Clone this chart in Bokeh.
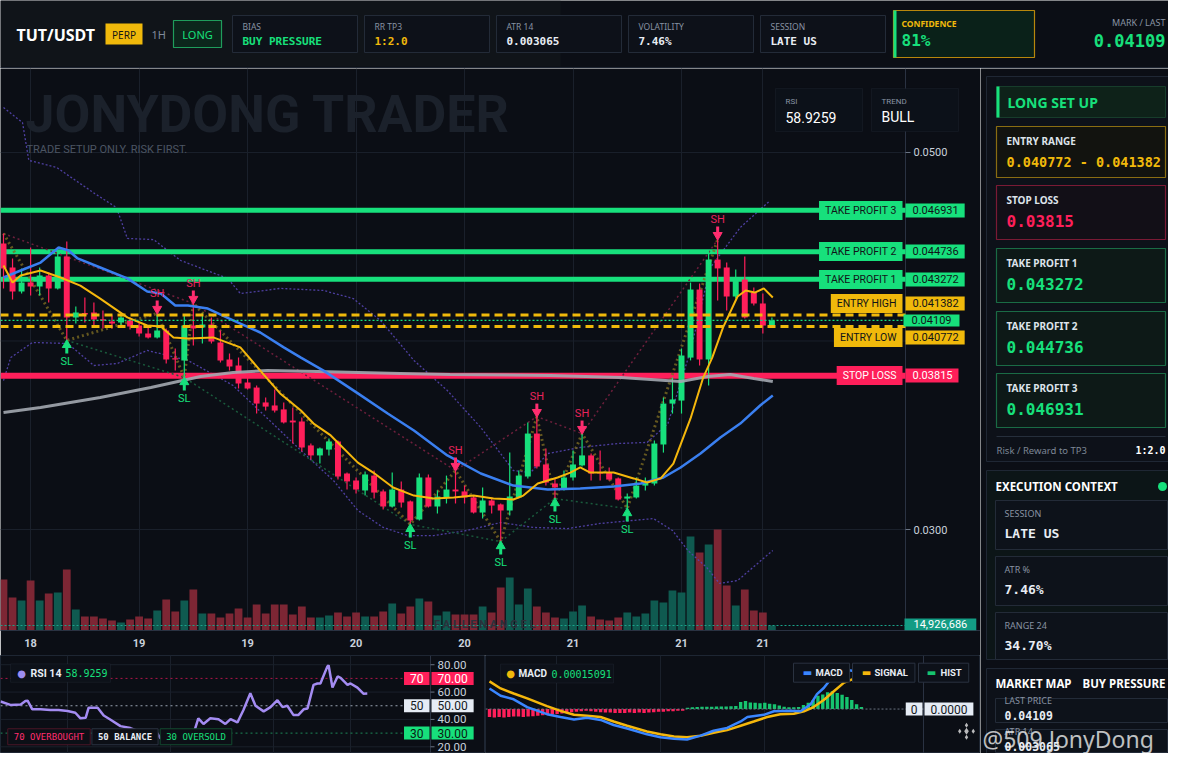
import numpy as np
from bokeh.plotting import figure
from bokeh.models import (Range1d, FixedTicker, Label, BoxAnnotation, ColumnDataSource)
from bokeh.layouts import row, column
from bokeh.core.properties import value
from bokeh.embed import file_html
from bokeh.resources import INLINE

# ---------------------------------------------------------------- data
symbol = "TUT/USDT"
timeframe = "1H"
side = "LONG"
card_labels = ["BIAS", "RR TP3", "ATR 14", "VOLATILITY", "SESSION"]
card_values = ["BUY PRESSURE", "1:2.0", "0.003065", "7.46%", "LATE US"]
confidence = "81%"

x_tick_bars = [3, 15, 27, 39, 51, 63, 75, 84]
x_tick_labels = ["18", "19", "19", "20", "20", "21", "21", "21"]
price_ticks = [0.03, 0.04, 0.05]
price_tick_labels = ["0.0300", "", "0.0500"]

candle_open = [0.04517, 0.04390, 0.04263, 0.04310, 0.04289, 0.04347, 0.04279, 0.04448, 0.04125, 0.04146,
               0.04151, 0.04114, 0.04104, 0.04098, 0.04109, 0.04082, 0.04040, 0.04019, 0.04056, 0.03907,
               0.03897, 0.04082, 0.04072, 0.04088, 0.03992, 0.03902, 0.03870, 0.03780, 0.03753, 0.03674,
               0.03658, 0.03637, 0.03578, 0.03573, 0.03446, 0.03393, 0.03424, 0.03467, 0.03297, 0.03260,
               0.03207, 0.03286, 0.03202, 0.03122, 0.03212, 0.03149, 0.03053, 0.03276, 0.03122, 0.03170,
               0.03212, 0.03202, 0.03170, 0.03090, 0.03154, 0.03133, 0.03101, 0.03170, 0.03281, 0.03509,
               0.03345, 0.03244, 0.03217, 0.03276, 0.03340, 0.03393, 0.03302, 0.03302, 0.03271, 0.03164,
               0.03170, 0.03233, 0.03244, 0.03451, 0.03668, 0.03684, 0.03912, 0.04273, 0.03902, 0.04432,
               0.04390, 0.04236, 0.04326, 0.04257, 0.04199, 0.04082]
candle_high = [0.04570, 0.04438, 0.04385, 0.04496, 0.04390, 0.04363, 0.04470, 0.04528, 0.04183, 0.04231,
               0.04204, 0.04162, 0.04135, 0.04146, 0.04125, 0.04098, 0.04072, 0.04146, 0.04066, 0.03960,
               0.04135, 0.04199, 0.04146, 0.04125, 0.04056, 0.03934, 0.03912, 0.03828, 0.03764, 0.03700,
               0.03743, 0.03674, 0.03647, 0.03594, 0.03456, 0.03435, 0.03483, 0.03472, 0.03302, 0.03276,
               0.03308, 0.03313, 0.03212, 0.03302, 0.03255, 0.03154, 0.03297, 0.03292, 0.03207, 0.03286,
               0.03313, 0.03233, 0.03180, 0.03223, 0.03170, 0.03138, 0.03408, 0.03313, 0.03568, 0.03599,
               0.03430, 0.03271, 0.03313, 0.03419, 0.03509, 0.03403, 0.03419, 0.03329, 0.03276, 0.03191,
               0.03276, 0.03276, 0.03472, 0.03700, 0.03806, 0.03960, 0.04310, 0.04305, 0.04480, 0.04538,
               0.04416, 0.04379, 0.04448, 0.04284, 0.04252, 0.04125]
candle_low = [0.04279, 0.04220, 0.04252, 0.04241, 0.04241, 0.04204, 0.04273, 0.04003, 0.04093, 0.04098,
              0.04077, 0.04066, 0.04066, 0.04082, 0.04061, 0.04024, 0.04013, 0.04013, 0.03881, 0.03843,
              0.03806, 0.03976, 0.03987, 0.03987, 0.03886, 0.03843, 0.03748, 0.03743, 0.03615, 0.03631,
              0.03621, 0.03562, 0.03456, 0.03414, 0.03371, 0.03350, 0.03393, 0.03265, 0.03212, 0.03191,
              0.03180, 0.03164, 0.03106, 0.03117, 0.03117, 0.03027, 0.03048, 0.03117, 0.03085, 0.03138,
              0.03138, 0.03138, 0.03085, 0.03058, 0.03085, 0.02936, 0.03074, 0.03164, 0.03271, 0.03324,
              0.03233, 0.03164, 0.03207, 0.03260, 0.03334, 0.03260, 0.03260, 0.03260, 0.03154, 0.03111,
              0.03164, 0.03207, 0.03233, 0.03408, 0.03615, 0.03615, 0.03897, 0.03870, 0.03764, 0.04215,
              0.04162, 0.04225, 0.04119, 0.04188, 0.04040, 0.04072]
candle_close = [0.04385, 0.04263, 0.04310, 0.04289, 0.04347, 0.04279, 0.04448, 0.04125, 0.04151, 0.04141,
                0.04114, 0.04109, 0.04093, 0.04125, 0.04077, 0.04040, 0.04019, 0.04056, 0.03902, 0.03902,
                0.04082, 0.04066, 0.04088, 0.03997, 0.03897, 0.03865, 0.03775, 0.03748, 0.03668, 0.03652,
                0.03631, 0.03568, 0.03568, 0.03435, 0.03393, 0.03430, 0.03467, 0.03281, 0.03255, 0.03212,
                0.03292, 0.03196, 0.03122, 0.03212, 0.03143, 0.03048, 0.03276, 0.03122, 0.03175, 0.03212,
                0.03202, 0.03170, 0.03090, 0.03154, 0.03127, 0.03101, 0.03175, 0.03286, 0.03509, 0.03334,
                0.03249, 0.03223, 0.03276, 0.03345, 0.03393, 0.03297, 0.03297, 0.03265, 0.03159, 0.03175,
                0.03233, 0.03249, 0.03456, 0.03668, 0.03690, 0.03923, 0.04273, 0.03902, 0.04432, 0.04385,
                0.04236, 0.04326, 0.04125, 0.04199, 0.04082, 0.04109]
volume_m = [152.3, 98.5, 89.6, 149.3, 89.6, 110.5, 113.5, 182.1, 62.7, 41.8,
            41.8, 35.8, 29.9, 23.9, 32.8, 41.8, 35.8, 59.7, 92.6, 56.7,
            89.6, 122.4, 50.8, 50.8, 38.8, 50.8, 65.7, 38.8, 77.6, 50.8,
            77.6, 77.6, 47.8, 71.7, 38.8, 38.8, 44.8, 53.7, 41.8, 53.7,
            41.8, 41.8, 56.7, 80.6, 50.8, 71.7, 95.6, 86.6, 44.8, 56.7,
            47.8, 47.8, 47.8, 71.7, 53.7, 128.4, 158.3, 77.6, 125.4, 71.7,
            53.7, 38.8, 35.8, 56.7, 74.7, 41.8, 32.8, 29.9, 38.8, 53.7,
            41.8, 50.8, 89.6, 83.6, 119.4, 113.5, 280.7, 232.9, 256.8, 301.6,
            134.4, 74.7, 122.4, 59.7, 53.7, 14.926686]
last_volume = 14926686

ema_fast_bar = [0, 1, 1.9, 4.1, 6.3, 8.5, 10.7, 13.7, 15.9, 17.4, 18.8, 20.4, 23.2, 26.2, 28.4, 30.6,
                32.9, 34.3, 36.2, 39.2, 40.9, 43.1, 45.4, 47.6, 49.8, 52.0, 54.2, 56.4, 57.5, 59.1, 61.3,
                62.7, 63.8, 64.9, 67.5, 69.7, 71.2, 72.7, 74.1, 76.0, 77.4, 78.4, 79.6, 81.2, 82.1, 83.1,
                84.1, 85.1]
ema_fast_val = [0.04401, 0.04310, 0.04347, 0.04374, 0.04337, 0.04294, 0.04225, 0.04125, 0.04082, 0.04077,
                0.04019, 0.04013, 0.04019, 0.03966, 0.03843, 0.03722, 0.03631, 0.03562, 0.03499, 0.03355,
                0.03302, 0.03223, 0.03180, 0.03164, 0.03170, 0.03180, 0.03164, 0.03159, 0.03180, 0.03244,
                0.03276, 0.03302, 0.03329, 0.03302, 0.03302, 0.03271, 0.03249, 0.03271, 0.03350, 0.03589,
                0.03806, 0.03912, 0.04072, 0.04236, 0.04268, 0.04257, 0.04279, 0.04231]
ema_mid_bar = [0, 1.9, 4.1, 6.1, 7.2, 8.2, 10.7, 13.7, 15.9, 17.4, 19.0, 20.4, 22.6, 25.4, 28.4, 31.0,
               32.9, 35.4, 39.2, 42.5, 45.4, 49.1, 52.8, 56.4, 60.2, 63.8, 67.5, 70.5, 73.0, 74.9, 77.1,
               79.3, 81.5, 83.7, 85.1]
ema_mid_val = [0.04337, 0.04374, 0.04416, 0.04496, 0.04480, 0.04438, 0.04390, 0.04332, 0.04263, 0.04252,
               0.04188, 0.04188, 0.04172, 0.04109, 0.04045, 0.03966, 0.03912, 0.03843, 0.03722, 0.03615,
               0.03525, 0.03393, 0.03297, 0.03233, 0.03212, 0.03217, 0.03228, 0.03244, 0.03276, 0.03329,
               0.03403, 0.03488, 0.03562, 0.03658, 0.03711]
ema_slow_bar = [0, 4.1, 10.7, 16.3, 21.8, 25.4, 29.2, 34.7, 43.9, 49.4, 60.5, 68.3, 74.9, 77.9, 80.4, 83.0, 85.1]
ema_slow_val = [0.03621, 0.03647, 0.03700, 0.03753, 0.03812, 0.03833, 0.03843, 0.03838, 0.03828, 0.03822,
                0.03817, 0.03806, 0.03785, 0.03812, 0.03822, 0.03801, 0.03785]
band_up_bar = [0, 2.1, 2.8, 5.9, 10.1, 12.5, 13.7, 16.6, 19.6, 24.8, 26.2, 30.6, 35.4, 38.7, 41.7, 45.4,
               49.1, 52.8, 56.4, 58.3, 60.2, 63.8, 67.9, 71.2, 73.5, 76.0, 78.2, 81.5, 84.8]
band_up_val = [0.05239, 0.05159, 0.04958, 0.04920, 0.04782, 0.04708, 0.04544, 0.04538, 0.04427, 0.04332,
               0.04252, 0.04279, 0.04268, 0.04225, 0.04109, 0.03897, 0.03737, 0.03541, 0.03313, 0.03302,
               0.03403, 0.03435, 0.03456, 0.03462, 0.03562, 0.03950, 0.04390, 0.04602, 0.04745]
band_lo_bar = [0, 0.8, 3.2, 7.1, 10.0, 12.6, 15.9, 20.4, 25.4, 32.9, 36.5, 39.2, 42.0, 44.7, 47.6, 51.3,
               55.0, 58.6, 62.4, 66.0, 71.9, 74.0, 75.7, 77.8, 79.2, 81.2, 85.1]
band_lo_val = [0.03790, 0.03912, 0.03992, 0.03987, 0.03870, 0.03881, 0.03950, 0.03897, 0.03764, 0.03419,
               0.03260, 0.03101, 0.03011, 0.02968, 0.02968, 0.02995, 0.03037, 0.03011, 0.03005, 0.03032,
               0.03058, 0.02995, 0.02889, 0.02798, 0.02714, 0.02729, 0.02889]

swing_high_bars = [17, 21, 50, 59, 64, 79]
swing_low_bars = [7, 20, 45, 55, 61, 69]
zigzag_bars = [0, 7, 17, 20, 21, 45, 50, 55, 59, 61, 64, 69, 79]
high_line_bars = [0, 21, 50, 59, 64, 79]
low_line_bars = [7, 20, 45, 55, 61, 69]

tp3, tp2, tp1 = 0.046931, 0.044736, 0.043272
entry_high, entry_low = 0.041382, 0.040772
stop_loss = 0.03815
last_price = 0.04109
rsi_last = 58.9259
trend = "BULL"

rsi_bar = [0, 2.3, 4.7, 5.8, 6.3, 7.4, 9.3, 11.6, 13.5, 15.6,
           17.4, 18.6, 19.8, 20.5, 22.6, 24.0, 25.6, 27.9, 30.2, 31.9,
           34.2, 36.0, 37.2, 38.8, 40.2, 42.3, 43.5, 44.9, 46.0, 47.2,
           48.8, 50.7, 52.3, 53.5, 55.1, 56.5, 58.1, 59.3, 61.2, 62.8,
           64.4, 65.6, 66.7, 68.1, 69.3, 70.5, 71.4, 72.8, 73.7, 74.4,
           76.0, 76.3, 77.2, 78.4, 79.1, 80.7, 81.4, 83.0, 84.4, 85.3]
rsi_val = [53.1, 50.6, 51.0, 53.5, 53.7, 47.4, 47.4, 46.9, 46.9, 46.1,
           44.9, 40.8, 41.2, 48.6, 48.6, 42.9, 39.8, 35.1, 33.7, 31.6,
           27.5, 32.2, 26.1, 28.0, 30.6, 25.5, 31.6, 29.6, 40.8, 36.7,
           40.8, 40.2, 36.7, 40.2, 37.8, 46.9, 59.2, 50.0, 45.9, 49.0,
           54.1, 49.0, 50.0, 43.3, 43.3, 47.4, 48.0, 65.3, 66.3, 66.3,
           78.6, 79.6, 63.3, 71.4, 70.4, 65.3, 66.3, 63.3, 58.8, 58.93]
rsi_ticks = [20, 40, 60, 80]
rsi_levels = [70, 50, 30]

macd_bar = [0, 2.3, 5.0, 7.8, 11.9, 14.7, 17.5, 20.2, 23.0, 25.7, 28.5, 32.6, 35.4, 38.2, 40.9, 43.7,
            46.4, 49.2, 52.0, 53.4, 56.8, 58.9, 62.3, 64.4, 66.5, 67.8, 69.2, 70.3, 71.3, 72.3, 73.7,
            75.1, 76.5]
macd_val_e6 = [93, 60, 44, 9, -23, -36, -47, -39, -49, -72, -88, -114, -127, -134, -137, -120,
               -98, -85, -56, -36, -26, -10, -8, -10, 22, 67, 95, 125, 151, 164, 177, 173, 150.91]
signal_bar = [0, 2.3, 5.0, 7.8, 11.9, 14.7, 17.5, 20.2, 23.0, 25.7, 28.5, 32.6, 35.4, 38.2, 40.9, 43.7,
              46.4, 49.2, 52.0, 54.7, 57.5, 60.2, 63.0, 65.1, 67.1, 69.2, 71.3, 73.4, 75.1, 76.5]
signal_val_e6 = [125, 93, 70, 48, 13, -8, -26, -30, -36, -56, -75, -101, -114, -124, -127, -120,
                 -107, -95, -75, -56, -36, -23, -21, -10, 9, 41, 80, 119, 134, 145]
hist_val_e6 = [-36, -38, -36, -38, -36, -34, -34, -36, -34, -32, -30, -28, -26, -24, -22, -20, -16, -14,
               -12, -10, -8, -10, -12, -14, -16, -16, -18, -18, -18, -16, -18, -16, -18, -16, -14, -12,
               -12, -10, -10, -8, -8,
               6, 8, 9, 10, 10, 10, 11, 12, 12, 13, 14,
               32, 36, 30, 28, 26, 28, 24, 22, 16, 10, 8, 8, 9,
               18, 28, 40, 60, 66, 76, 80, 72, 64, 54, 41, 22, 9]
macd_last = "0.00015091"

exec_labels = ["SESSION", "ATR %", "RANGE 24"]
exec_values = ["LATE US", "7.46%", "34.70%"]
market_labels = ["LAST PRICE", "ATR 14"]
market_values = ["0.04109", "0.003065"]

# ---------------------------------------------------------------- style
BG = "#0b0e15"
GRID = "#1a202b"
AXL = "#2a3242"
GREEN = "#17e07c"
RED = "#ff1f5a"
YEL = "#f0b90b"
WHITE = "#e8edf4"
DARK = "#111418"
GRAYT = "#8893a3"
TICKC = "#c9d1dc"
MONO = "DejaVu Sans Mono"
SANS = "Noto Sans"


def style_fig(p):
    p.background_fill_color = BG
    p.border_fill_color = BG
    p.outline_line_color = None


def deco_fig(w, h, x0, x1, y0, y1):
    p = figure(width=w, height=h, x_range=Range1d(x0, x1), y_range=Range1d(y1, y0),
               x_axis_location=None, y_axis_location=None, output_backend="svg",
               toolbar_location=None, min_border=0)
    style_fig(p)
    p.grid.visible = False
    return p


def T(p, x, y, s, size, color, font=SANS, bold=False, align="left", alpha=1.0):
    p.text(x=[x], y=[y], text=[s], text_font=value(font), text_font_size=f"{size}px",
           text_color=color, text_alpha=alpha, text_align=align, text_baseline="middle",
           text_font_style="bold" if bold else "normal")


def Q(p, l, r, t, b, fill, line=None, fa=1.0, lw=1):
    p.quad(left=[l], right=[r], top=[t], bottom=[b], fill_color=fill, fill_alpha=fa,
           line_color=line, line_width=lw)


def L(p, x, y, s, size=11, color=WHITE, font="Roboto", bold=False, align="left",
      bg=None, border=None, pl=0, pr=None, py=0, alpha=1.0):
    # x is the outer edge of the (padded) box for left/right alignment
    kw = {}
    if bg is not None:
        kw["background_fill_color"] = bg
        kw["background_fill_alpha"] = 1.0
    if border is not None:
        kw["border_line_color"] = border
    if pr is None:
        pr = pl
    p.add_layout(Label(x=x, y=y, text=s, text_font=font, text_font_size=f"{size}px",
                       text_color=color, text_alpha=alpha,
                       text_font_style="bold" if bold else "normal",
                       text_align=align, text_baseline="middle",
                       padding=dict(left=pl, right=pr, top=py, bottom=py), **kw))


# ---------------------------------------------------------------- header
hd = deco_fig(1168, 68, 0, 1168, 0, 68)
Q(hd, 0, 560, 0, 66, "#16191d", fa=0.55)
hd.line(x=[0, 1168], y=[67.3, 67.3], line_color="#1d2431", line_width=1.5)
T(hd, 16, 34, symbol, 16, "#ffffff", bold=True)
Q(hd, 105, 142, 23, 44, YEL)
T(hd, 123.5, 34, "PERP", 10, "#151515", align="center")
T(hd, 151, 34, timeframe, 11, "#7f8a99")
Q(hd, 173, 221, 20, 47, "#0c261c", line="#1f9d5c", lw=1.2)
T(hd, 197, 34, side, 11, GREEN, align="center")
card_lefts = [232, 364, 496, 628, 760]
card_cols = [GREEN, YEL, WHITE, WHITE, WHITE]
for lab, val, col, l in zip(card_labels, card_values, card_cols, card_lefts):
    Q(hd, l, l + 125, 15, 52, "#0d1119", line="#232b38")
    T(hd, l + 10, 26, lab, 8.5, GRAYT)
    T(hd, l + 10, 40.5, val, 11, col, font=MONO, bold=True)
Q(hd, 893, 1034, 10, 57, "#0a2119", line="#b8870c", lw=1.2)
Q(hd, 893, 896, 10, 57, GREEN)
T(hd, 901, 23, "CONFIDENCE", 8.5, YEL, bold=True)
T(hd, 901, 40, confidence, 16, GREEN, font=MONO, bold=True)
T(hd, 1165, 22, "MARK / LAST", 9, GRAYT, align="right")
T(hd, 1165, 40, f"{last_price}", 17, GREEN, font=MONO, bold=True, align="right")

# ---------------------------------------------------------------- main chart
Y0, Y1 = 0.024642, 0.054456
FH = 562
PPX = (Y1 - Y0) / FH


def XI(px):
    return (px - 3.0) / 9.04


def PY(py):
    return 0.05 - (py - 152) * PPX


pm = figure(width=980, height=587, x_range=Range1d(XI(0), XI(980)), y_range=Range1d(Y0, Y1),
            y_axis_location=None, output_backend="svg", toolbar_location=None,
            min_border=0, min_border_bottom=25)
style_fig(pm)
pm.extra_y_ranges = {"vol": Range1d(0, last_volume / 1e6 * FH / 5.0)}
pm.xgrid.grid_line_color = GRID
pm.ygrid.grid_line_color = None
pm.xaxis.ticker = FixedTicker(ticks=x_tick_bars)
pm.xaxis.major_label_overrides = {b: s for b, s in zip(x_tick_bars, x_tick_labels)}
pm.xaxis.axis_line_color = AXL
pm.xaxis.major_tick_line_color = None
pm.xaxis.minor_tick_line_color = None
pm.xaxis.major_label_text_color = TICKC
pm.xaxis.major_label_text_font = "Roboto"
pm.xaxis.major_label_text_font_size = "11px"
pm.xaxis.major_label_text_font_style = "bold"
pm.xaxis.major_label_standoff = 8
pm.xaxis.major_tick_out = 0
pm.xaxis.major_tick_in = 0

XL = XI(0)
XA = XI(905)          # price-scale edge
pm.segment(x0=[XL] * 3, x1=[XA] * 3, y0=price_ticks, y1=price_ticks, line_color=GRID, line_width=1)
pm.vspan(x=[XA], line_color=AXL, line_width=1)
pm.segment(x0=[XA] * 3, x1=[XI(910)] * 3, y0=price_ticks, y1=price_ticks, line_color="#6c7686")
pm.text(x=[XI(913)] * 3, y=price_ticks, text=price_tick_labels, text_font=value("Roboto"),
        text_font_size="11px", text_color=TICKC, text_baseline="middle")

o = np.array(candle_open)
h = np.array(candle_high)
lo = np.array(candle_low)
c = np.array(candle_close)
bars = np.arange(len(o))
up = c >= o
btop = np.maximum(o, c)
bbot = np.minimum(o, c)
btop = np.maximum(btop, bbot + 1.3 * PPX)
src = ColumnDataSource(dict(x=bars, h=h, l=lo, top=btop, bot=bbot,
                            color=[GREEN if u else RED for u in up],
                            vol=volume_m,
                            vcolor=["#0f5a50" if u else "#7d2634" for u in up]))

pm.vbar(x="x", top="vol", bottom=0, width=0.86, fill_color="vcolor", line_color=None,
        y_range_name="vol", source=src)
pm.segment(x0=[XL], x1=[XA], y0=[last_volume / 1e6], y1=[last_volume / 1e6], line_color="#1aa38a",
           line_dash="2 2", line_width=1, y_range_name="vol")

pm.line(band_up_bar, band_up_val, line_color="#5545b0", line_width=1.3, line_dash="2 2", line_alpha=0.9)
pm.line(band_lo_bar, band_lo_val, line_color="#5545b0", line_width=1.3, line_dash="2 2", line_alpha=0.9)

pm.segment(x0=[XL] * 3, x1=[XA] * 3, y0=[tp3, tp2, tp1], y1=[tp3, tp2, tp1], line_color=GREEN, line_width=5)
pm.segment(x0=[XL], x1=[XA], y0=[stop_loss], y1=[stop_loss], line_color=RED, line_width=6)

pm.line(high_line_bars, [h[i] for i in high_line_bars], line_color="#6e1f3c", line_width=1.5,
        line_dash="2 3")
pm.line(low_line_bars, [lo[i] for i in low_line_bars], line_color="#1a5a3c", line_width=1.5,
        line_dash="2 3")
zz_vals = [lo[i] if i in swing_low_bars else h[i] for i in zigzag_bars]
pm.line(zigzag_bars, zz_vals, line_color="#7a6a22", line_width=3, line_dash="2 3", line_alpha=0.8)

pm.segment(x0="x", y0="l", x1="x", y1="h", line_color="color", line_width=1.2, source=src)
pm.vbar(x="x", top="top", bottom="bot", width=0.66, fill_color="color", line_color=None, source=src)

pm.line(ema_slow_bar, ema_slow_val, line_color="#a3a8b0", line_width=3, line_alpha=0.9)
pm.line(ema_mid_bar, ema_mid_val, line_color="#3a7ff0", line_width=2.5)
pm.line(ema_fast_bar, ema_fast_val, line_color="#f5b70c", line_width=2)

pm.segment(x0=[XL] * 2, x1=[XA] * 2, y0=[entry_high, entry_low], y1=[entry_high, entry_low],
           line_color=YEL, line_width=3, line_dash="8 5")
pm.segment(x0=[XL], x1=[XA], y0=[last_price], y1=[last_price], line_color=GREEN, line_width=1.2,
           line_dash="2 2")

SHC = "#ff2d6f"
SLC = "#17e07c"
shx = swing_high_bars
shy = [h[i] for i in shx]
pm.segment(x0=shx, y0=[v + 7 * PPX for v in shy], x1=shx, y1=[v + 13 * PPX for v in shy],
           line_color=SHC, line_width=3)
pm.scatter(x=shx, y=[v + 4.5 * PPX for v in shy], marker="inverted_triangle", size=9,
           fill_color=SHC, line_color=SHC)
pm.text(x=shx, y=[v + 20 * PPX for v in shy], text=["SH"] * len(shx), text_font=value("Roboto"),
        text_font_size="11px", text_color="#e8245c", text_align="center", text_baseline="middle")
slx = swing_low_bars
sly = [lo[i] for i in slx]
pm.segment(x0=slx, y0=[v - 7 * PPX for v in sly], x1=slx, y1=[v - 13 * PPX for v in sly],
           line_color=SLC, line_width=3)
pm.scatter(x=slx, y=[v - 4.5 * PPX for v in sly], marker="triangle", size=9,
           fill_color=SLC, line_color=SLC)
pm.text(x=slx, y=[v - 21 * PPX for v in sly], text=["SL"] * len(slx), text_font=value("Roboto"),
        text_font_size="11px", text_color=SLC, text_align="center", text_baseline="middle")

L(pm, XI(25), PY(114), "JONYDONG TRADER", size=52, color="#1b212b", bold=True)
L(pm, XI(26), PY(149), "TRADE SETUP ONLY. RISK FIRST.", size=11, color="#4c5563")
L(pm, XI(487), PY(624.5), "F A L L E N   A N G E L", size=11, color="#2b313b", bold=True, align="center")

for l, r in ((775, 862), (871, 958)):
    pm.add_layout(BoxAnnotation(left=XI(l), right=XI(r), top=PY(88), bottom=PY(131),
                                fill_color="#0c1119", fill_alpha=1, line_color="#27303d"))
L(pm, XI(785), PY(101), "RSI", size=8, color=GRAYT)
L(pm, XI(785), PY(117), f"{rsi_last}", size=14, color="#ffffff")
L(pm, XI(881), PY(101), "TREND", size=8, color=GRAYT)
L(pm, XI(881), PY(117), trend, size=14, color="#ffffff")

tags = [("TAKE PROFIT 3", tp3, PY(210), GREEN, DARK), ("TAKE PROFIT 2", tp2, PY(251), GREEN, DARK),
        ("TAKE PROFIT 1", tp1, PY(279), GREEN, DARK), ("ENTRY HIGH", entry_high, PY(303), YEL, DARK),
        ("ENTRY LOW", entry_low, PY(337), YEL, DARK), ("STOP LOSS", stop_loss, PY(375), RED, "#ffffff")]
for name, lvl, ty, bg, fg in tags:
    L(pm, XI(902), ty, name, size=10.5, color=fg, align="right", bg=bg, pl=6, py=3)
    L(pm, XI(905), ty, f"{lvl}", size=11, color=fg, align="left", bg=bg, pl=7, pr=6, py=3)
L(pm, XI(903), last_price, f"{last_price}", size=11, color=DARK, bg=GREEN, pl=8, pr=8, py=2)
L(pm, XI(904), PY(624), f"{last_volume:,}", size=11, color="#ffffff", bg="#139c84", pl=9, pr=9, py=2)

# ---------------------------------------------------------------- RSI panel (ref rows 655..772)


def RX(px):
    return px / 4.3


def RY(py):
    return 50 - (py - 715) / 1.633


pr_ = figure(width=485, height=98, x_range=Range1d(RX(0), RX(485)), y_range=Range1d(RY(772), RY(655)),
             x_axis_location=None, y_axis_location=None, output_backend="svg",
             toolbar_location=None, min_border=0)
style_fig(pr_)
pr_.outline_line_color = "#1e2633"
pr_.xgrid.ticker = FixedTicker(ticks=[RX(67), RX(170), RX(273), RX(350)])
pr_.xgrid.grid_line_color = GRID
pr_.ygrid.grid_line_color = None
RA = RX(430)
pr_.segment(x0=[RX(0)] * 4, x1=[RA] * 4, y0=rsi_ticks, y1=rsi_ticks, line_color=GRID)
pr_.vspan(x=[RA], line_color=AXL)
pr_.segment(x0=[RA] * 4, x1=[RX(434)] * 4, y0=rsi_ticks, y1=rsi_ticks, line_color="#6c7686")
pr_.text(x=[RX(437)] * 4, y=rsi_ticks, text=[f"{t:.2f}" for t in rsi_ticks], text_font=value("Roboto"),
         text_font_size="11.5px", text_color=TICKC, text_baseline="middle")
for lvl, col in zip(rsi_levels, ["#b0164a", "#9aa3b2", "#1e8a5a"]):
    pr_.segment(x0=[RX(0)], x1=[RA], y0=[lvl], y1=[lvl], line_color=col, line_dash="2 3", line_width=1)
pr_.line(rsi_bar, rsi_val, line_color="#a48cf2", line_width=2.5)
pr_.add_layout(BoxAnnotation(left=RX(10), right=RX(110), top=RY(665), bottom=RY(687),
                             fill_color="#0d1119", fill_alpha=1, line_color="#2a3240"))
L(pr_, RX(21), RY(676), "\u25cf", size=10, color="#9d8df1", align="center", font="DejaVu Sans")
L(pr_, RX(30), RY(676), "RSI 14", size=10.5, color=WHITE, bold=True)
L(pr_, RX(65), RY(676), f"{rsi_last}", size=10, color=GREEN, font=MONO)
L(pr_, RX(48.5), RY(752), "70 OVERBOUGHT", size=9, color="#ff2d6f", font=MONO, align="center",
  bg="#0c0f16", border="#4a1626", pl=6, py=3)
L(pr_, RX(124.5), RY(752), "50 BALANCE", size=9, color=WHITE, font=MONO, bold=True, align="center",
  bg="#0c0f16", border="#2a3240", pl=6, py=3)
L(pr_, RX(195.5), RY(752), "30 OVERSOLD", size=9, color=GREEN, font=MONO, align="center",
  bg="#0c0f16", border="#134a30", pl=6, py=3)
for lvl, bg, fg in zip(rsi_levels, [RED, "#e6ecf5", GREEN], ["#ffffff", "#141922", "#0b1a12"]):
    L(pr_, RX(429), lvl, f"{lvl}", size=12, color=fg, align="right", bg=bg, pl=6, py=2)
    L(pr_, RX(431), lvl, f"{lvl:.2f}", size=12, color=fg, align="left", bg=bg, pl=6, py=2)

# ---------------------------------------------------------------- MACD panel


def MX(px):
    return (px - 489) / 4.83


def MY(py):
    return (717.3 - py) / 258000


pmc = figure(width=495, height=98, x_range=Range1d(MX(485), MX(980)), y_range=Range1d(MY(769), MY(655)),
             x_axis_location=None, y_axis_location=None, output_backend="svg",
             toolbar_location=None, min_border=0)
style_fig(pmc)
pmc.outline_line_color = "#1e2633"
pmc.xgrid.ticker = FixedTicker(ticks=[MX(556), MX(660), MX(764)])
pmc.xgrid.grid_line_color = GRID
pmc.ygrid.grid_line_color = None
MA = MX(923)
pmc.vspan(x=[MA], line_color=AXL)
hist = np.array(hist_val_e6) * 1e-6
pmc.vbar(x=np.arange(len(hist)), top=hist, bottom=0, width=0.7,
         fill_color=["#16c46f" if v >= 0 else "#ff1f5a" for v in hist], line_color=None)
pmc.segment(x0=[MX(485)], x1=[MA], y0=[0], y1=[0], line_color="#6b7380", line_dash="2 2", line_width=1)
pmc.line(signal_bar, np.array(signal_val_e6) * 1e-6, line_color="#f5b70c", line_width=2.5)
pmc.line(macd_bar, np.array(macd_val_e6) * 1e-6, line_color="#3a86ff", line_width=2.5)
pmc.add_layout(BoxAnnotation(left=MX(500), right=MX(613), top=MY(665), bottom=MY(687),
                             fill_color="#0d1119", fill_alpha=1, line_color="#2a3240"))
L(pmc, MX(510), MY(676), "\u25cf", size=10, color=YEL, align="center", font="DejaVu Sans")
L(pmc, MX(518), MY(676), "MACD", size=10, color=WHITE, bold=True)
L(pmc, MX(551), MY(676), macd_last, size=10, color=GREEN, font=MONO)
for txt, bx, sx, col in (("MACD", 793, 807, "#3a86ff"), ("SIGNAL", 852, 866, "#f5b70c"),
                         ("HIST", 918, 931, "#16c46f")):
    L(pmc, MX(bx), MY(675), txt, size=9.5, color=WHITE, bold=True,
      bg="#0d1119", border="#2a3240", pl=22, pr=7, py=4)
    L(pmc, MX(sx), MY(675), "\u25ac", size=10, color=col, align="center", font="DejaVu Sans")
L(pmc, MX(922), 0, "0", size=12, color="#141922", align="right", bg="#e6ecf5", pl=5, py=2)
L(pmc, MX(924), 0, "0.0000", size=12, color="#141922", align="left", bg="#e6ecf5", pl=6, py=2)
lx, ly = MX(966), MY(743)
dy = 6 / 258000 * 1.16
pmc.scatter(x=[lx], y=[ly], marker="diamond", size=7, fill_color="#e6e6e6", line_color=None, alpha=0.8)
pmc.scatter(x=[lx - 1.4, lx + 1.4, lx, lx], y=[ly, ly, ly + dy, ly - dy],
            marker="diamond", size=5, fill_color="#e6e6e6", line_color=None, alpha=0.8)

# ---------------------------------------------------------------- sidebar
sb = deco_fig(188, 685, 980, 1168, 68, 753)
Q(sb, 986, 1175, 76, 461, "#0d1119", line="#1f2734")
Q(sb, 996, 1165, 86, 117, "#0e2219", line="#173d2b")
Q(sb, 996, 999, 86, 117, GREEN)
T(sb, 1007, 102, "LONG SET UP", 14, GREEN, bold=True)
setup = [("ENTRY RANGE", f"{entry_low} - {entry_high}", YEL, "#8a6d12", "#12130f", 126, 177, 13.5),
         ("STOP LOSS", f"{stop_loss}", RED, "#7a1a35", "#120f17", 185, 239, 16),
         ("TAKE PROFIT 1", f"{tp1}", GREEN, "#1a6b45", "#0d1917", 248, 302, 16),
         ("TAKE PROFIT 2", f"{tp2}", GREEN, "#1a6b45", "#0d1917", 311, 365, 16),
         ("TAKE PROFIT 3", f"{tp3}", GREEN, "#1a6b45", "#0d1917", 373, 427, 16)]
for lab, val, col, bd, fl, t, b, fs in setup:
    Q(sb, 996, 1165, t, b, fl, line=bd, lw=1.2)
    T(sb, 1006, t + 14.5, lab, 10, "#dde3ea", bold=True)
    T(sb, 1006, t + 35, val, fs, col, font=MONO, bold=True)
sb.line(x=[996, 1165], y=[436, 436], line_color="#262f3c", line_width=1)
T(sb, 996, 450, "Risk / Reward to TP3", 9.5, "#7d8796")
T(sb, 1165, 450, card_values[1], 10, "#ffffff", font=MONO, bold=True, align="right")

Q(sb, 986, 1175, 470, 659, "#0c1517", line="#1f2734")
T(sb, 995, 486, "EXECUTION CONTEXT", 11.5, "#ffffff", bold=True)
sb.scatter(x=[1162], y=[486], size=9, fill_color=GREEN, line_color=None)
for lab, val, t in zip(exec_labels, exec_values, [500, 556, 612]):
    Q(sb, 995, 1167, t, min(t + 49, 659), "#0d121a", line="#232b38")
    T(sb, 1004, t + 13, lab, 9, GRAYT)
    T(sb, 1004, t + 33, val, 13, WHITE, font=MONO, bold=True)

Q(sb, 986, 1175, 668, 775, "#0d1119", line="#1f2734")
T(sb, 995, 683, "MARKET MAP", 11.5, "#ffffff", bold=True)
T(sb, 1165, 683, card_values[0], 11.5, "#ffffff", bold=True, align="right")
for lab, val, t, b in zip(market_labels, market_values, [698, 729], [722, 752]):
    Q(sb, 995, 1167, t, b, "#0d121a", line="#232b38")
    T(sb, 1004, t + 1.5, lab, 9, GRAYT)
    T(sb, 1004, t + 17, val, 11.5, WHITE, font=MONO, bold=True)
T(sb, 982, 738, "@509 JonyDong", 23, "#f2f2f2", alpha=0.78)

# ---------------------------------------------------------------- layout
page = column(hd, row(column(pm, row(pr_, pmc)), sb))
open("out.html", "w").write(file_html(page, INLINE))
